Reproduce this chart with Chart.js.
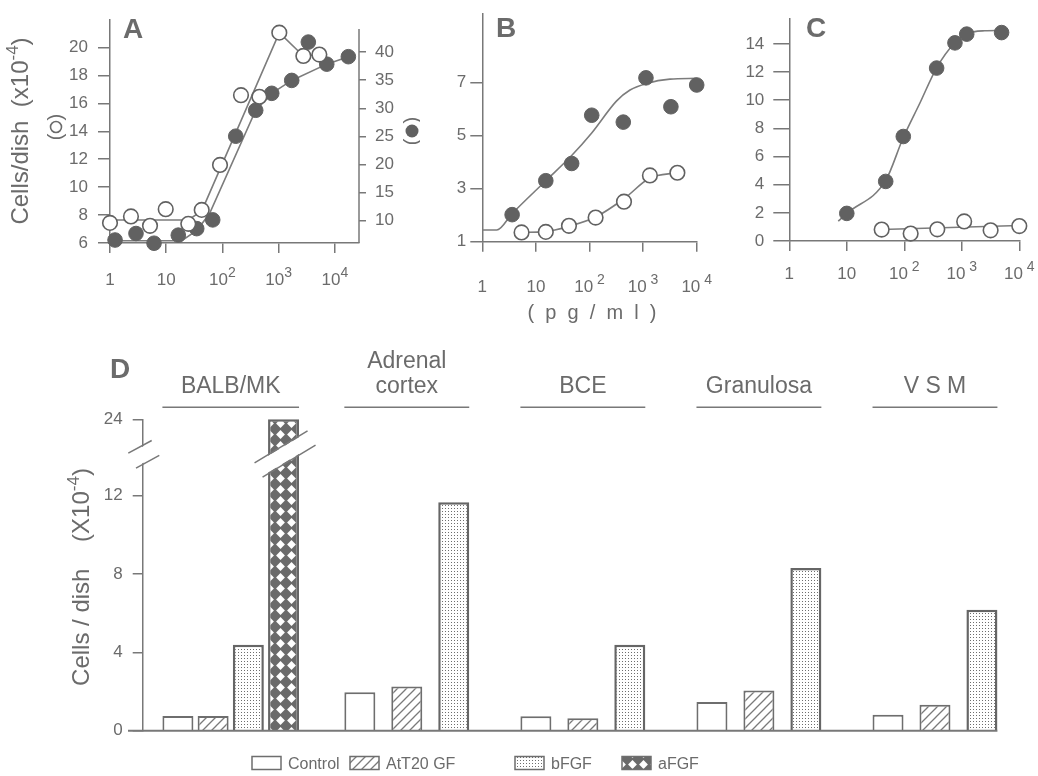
<!DOCTYPE html>
<html>
<head>
<meta charset="utf-8">
<script src="https://cdn.jsdelivr.net/npm/chart.js@4.4.1/dist/chart.umd.min.js"></script>
<style>
  body { margin: 0; background: #fff; width: 1038px; height: 776px; overflow: hidden; position: relative; }
  canvas { position: absolute; }
</style>
</head>
<body>
<canvas id="pa" width="420" height="330" style="left:0;top:0"></canvas>
<canvas id="pb" width="300" height="330" style="left:420px;top:0"></canvas>
<canvas id="pc" width="318" height="330" style="left:720px;top:0"></canvas>
<canvas id="pd" width="1038" height="446" style="left:0;top:330px"></canvas>
<script>
// ---- data ----
const logTicks = [1, 10, 100, 1000, 10000];
const logTickBase = ['1', '10', '10', '10', '10'];
const logTickExp = ['', '', '2', '3', '4'];

// A: open circles on left axis, filled circles on right axis
const aOpenX = [1, 2.36, 5.15, 9.8, 24.7, 42.8, 90.6, 214, 454, 1028, 2754, 5300];
const aOpenY = [7.44, 7.9, 7.23, 8.42, 7.37, 8.37, 11.59, 16.58, 16.47, 21.06, 19.39, 19.49];
const aFilledX = [1.23, 2.9, 6.07, 16.4, 34.9, 67.2, 172.6, 391, 754, 1710, 3377, 7175, 17380];
const aFilledY = [6.53, 7.69, 5.96, 7.4, 8.56, 10.12, 25.03, 29.65, 32.67, 34.97, 41.8, 37.87, 39.2];
const aOpenFitX = [1, 24.7, 43, 1028, 2754, 5300];
const aOpenFitY = [7.65, 7.65, 8.3, 21.06, 19.39, 19.49];
const aFilledFitX = [1, 18.9, 35, 58.5, 391, 754, 1710, 7175, 17380];
const aFilledFitY = [6.41, 6.41, 8.26, 11.16, 29.65, 32.67, 34.97, 37.87, 39.2];
const aLeftTicks = [6, 8, 10, 12, 14, 16, 18, 20];
const aRightTicks = [10, 15, 20, 25, 30, 35, 40];

// B
const bFilledX = [3.6, 15.3, 46.5, 110, 427, 1130, 3300, 10000];
const bFilledY = [2.02, 3.3, 3.95, 5.77, 5.51, 7.18, 6.09, 6.91];
const bOpenX = [5.4, 15.3, 41.4, 130, 440, 1340, 4360];
const bOpenY = [1.35, 1.37, 1.6, 1.91, 2.51, 3.5, 3.6];
const bFilledFitX = [1, 1.86, 3.6, 15.3, 46.5, 110, 321, 570, 1167, 3170, 10000];
const bFilledFitY = [1.44, 1.44, 2.06, 3.3, 4.25, 5.1, 6.31, 6.72, 6.97, 7.13, 7.16];
const bOpenFitX = [5.4, 15.3, 41.4, 130, 440, 1340, 4360];
const bOpenFitY = [1.35, 1.38, 1.58, 1.93, 2.62, 3.4, 3.6];
const bTicks = [1, 3, 5, 7];

// C
const cFilledX = [10, 47.5, 96, 365, 760, 1217, 4920];
const cFilledY = [1.96, 4.23, 7.42, 12.28, 14.07, 14.69, 14.8];
const cOpenX = [40.4, 129, 375, 1100, 3170, 10000];
const cOpenY = [0.81, 0.53, 0.83, 1.39, 0.76, 1.06];
const cFilledFitX = [7.1, 10, 47.5, 96, 187, 365, 760, 1217, 2500, 4920];
const cFilledFitY = [1.41, 1.96, 4.3, 7.35, 9.8, 12.3, 14.1, 14.72, 14.93, 14.95];
const cOpenFitX = [40.4, 10000];
const cOpenFitY = [0.82, 1.1];
const cTicks = [0, 2, 4, 6, 8, 10, 12, 14];

// D
const cellTypes = [['BALB/MK'], ['Adrenal', 'cortex'], ['BCE'], ['Granulosa'], ['V S M']];
const treatments = ['Control', 'AtT20 GF', 'bFGF', 'aFGF'];
const controlVals = [0.75, 1.96, 0.74, 1.47, 0.82];
const att20Vals = [0.75, 2.25, 0.63, 2.05, 1.33];
const bfgfVals = [4.38, 11.66, 4.38, 8.3, 6.17];
const afgfVals = [24, null, null, null, null];
const dTicks = [0, 4, 8, 12, 24];

// ---- look ----
const INK = '#6b6b6b';
const AXIS = '#787878';
const MARK = '#616161';
const FIT = '#7c7c7c';
const FONT = '"Liberation Sans", Arial, Helvetica, sans-serif';

Chart.defaults.font.family = FONT;
Chart.defaults.color = INK;
Chart.defaults.animation = false;
Chart.defaults.plugins.legend.display = false;
Chart.defaults.plugins.tooltip.enabled = false;

const pts = (xs, ys) => xs.map((x, i) => ({x, y: ys[i]}));
const openDots = {pointRadius: 7.3, backgroundColor: '#fff', borderColor: MARK, pointBackgroundColor: '#fff', pointBorderColor: MARK, pointBorderWidth: 1.6, showLine: false, clip: false};
const fullDots = {pointRadius: 7.3, backgroundColor: MARK, borderColor: MARK, pointBackgroundColor: MARK, pointBorderColor: MARK, pointBorderWidth: 1, showLine: false, clip: false};
const fitLine = {showLine: true, pointRadius: 0, borderColor: FIT, borderWidth: 1.6, tension: 0, clip: false};
const smoothLine = Object.assign({}, fitLine, {cubicInterpolationMode: 'monotone'});

function gridOf(len) {
  return {drawOnChartArea: false, drawTicks: true, tickLength: len, color: AXIS, lineWidth: 1.5};
}

// log x axis; its labels ("10" with a raised power) are painted by powLabels
function logX(max, h) {
  return {
    type: 'logarithmic', min: 1, max, bounds: 'data',
    afterBuildTicks: s => { s.ticks = logTicks.filter(v => v <= max).map(v => ({value: v})); },
    afterFit: s => { s.height = h; },
    ticks: {display: false, autoSkip: false},
    grid: gridOf(10),
    border: {color: AXIS, width: 1.5}
  };
}

function linY(o) {
  return {
    type: 'linear', position: o.position || 'left', min: o.min, max: o.max, bounds: 'data',
    afterBuildTicks: s => { s.ticks = o.ticks.map(v => ({value: v})); },
    afterFit: s => { s.width = o.width; },
    ticks: {autoSkip: false, padding: o.pad, font: {size: 17}, callback: v => String(v)},
    grid: gridOf(o.tickLen),
    border: {display: !o.noBorder, color: AXIS, width: 1.5}
  };
}

// text made of pieces [text, size, raise]; rotated = reads bottom to top
function richText(ctx, pieces, x, y, rotated) {
  ctx.save();
  ctx.translate(x, y);
  if (rotated) ctx.rotate(-Math.PI / 2);
  ctx.fillStyle = INK;
  ctx.textBaseline = 'alphabetic';
  ctx.textAlign = 'left';
  const widths = pieces.map(([t, s]) => { ctx.font = s + 'px ' + FONT; return ctx.measureText(t).width; });
  const base = pieces[0][1];
  let cx = -widths.reduce((a, b) => a + b, 0) / 2;
  pieces.forEach(([t, s, up], i) => {
    ctx.font = s + 'px ' + FONT;
    ctx.fillText(t, cx, base * 0.36 - (up || 0));
    cx += widths[i];
  });
  ctx.restore();
}

// "( o )" style key written sideways, the circle drawn as a marker
function keyMark(ctx, x, y, filled, r) {
  ctx.save();
  ctx.translate(x, y);
  ctx.rotate(-Math.PI / 2);
  ctx.font = '20px ' + FONT;
  ctx.fillStyle = INK;
  ctx.textBaseline = 'middle';
  ctx.textAlign = 'right';
  ctx.fillText('(', -r - 1, 0);
  ctx.textAlign = 'left';
  ctx.fillText(')', r + 1, 0);
  ctx.beginPath();
  ctx.arc(0, 0, r, 0, Math.PI * 2);
  if (filled) { ctx.fillStyle = MARK; ctx.fill(); }
  else { ctx.strokeStyle = INK; ctx.lineWidth = 1.6; ctx.stroke(); }
  ctx.restore();
}

function letter(ctx, ch, x, y) {
  ctx.save();
  ctx.font = 'bold 28px ' + FONT;
  ctx.fillStyle = INK;
  ctx.textAlign = 'center';
  ctx.textBaseline = 'alphabetic';
  ctx.fillText(ch, x, y);
  ctx.restore();
}

function powLabels(labelY, gap) {
  return {
    id: 'powLabels',
    afterDraw(chart) {
      const ctx = chart.ctx, x = chart.scales.x;
      x.ticks.forEach(t => {
        const i = logTicks.indexOf(t.value);
        const pieces = [[logTickBase[i], 17]];
        if (logTickExp[i]) pieces.push([gap + logTickExp[i], 14, 8]);
        richText(ctx, pieces, x.getPixelForValue(t.value), labelY, false);
      });
    }
  };
}

// ---- panel A ----
new Chart(document.getElementById('pa'), {
  type: 'scatter',
  data: {datasets: [
    Object.assign({data: pts(aOpenX, aOpenY), yAxisID: 'y'}, openDots),
    Object.assign({data: pts(aFilledX, aFilledY), yAxisID: 'y2'}, fullDots),
    Object.assign({data: pts(aOpenFitX, aOpenFitY), yAxisID: 'y'}, fitLine),
    Object.assign({data: pts(aFilledFitX, aFilledFitY), yAxisID: 'y2'}, fitLine)
  ]},
  options: {
    responsive: false,
    layout: {padding: {top: 14, left: 0, right: 0, bottom: 0}},
    scales: {
      x: logX(26900, 87),
      y: linY({min: 6, max: 21.95, ticks: aLeftTicks, width: 110, tickLen: 12, pad: 10}),
      y2: linY({position: 'right', min: 6, max: 45.7, ticks: aRightTicks, width: 61, tickLen: 7, pad: 9, noBorder: true})
    }
  },
  plugins: [powLabels(279, ''), {
    id: 'notesA',
    afterDraw(chart) {
      const {ctx, chartArea, scales} = chart;
      ctx.save();
      ctx.strokeStyle = AXIS;
      ctx.lineWidth = 1.5;
      ctx.beginPath();
      ctx.moveTo(chartArea.right, scales.y2.getPixelForValue(44.15));
      ctx.lineTo(chartArea.right, chartArea.bottom);
      ctx.stroke();
      ctx.restore();
      letter(ctx, 'A', 133, 38);
      richText(ctx, [['Cells/dish  (x10', 24], ['-4', 17, 10], [')', 24]], 19, 131, true);
      keyMark(ctx, 56, 127, false, 5.5);
      keyMark(ctx, 412, 131, true, 6.5);
    }
  }]
});

// ---- panel B ----
new Chart(document.getElementById('pb'), {
  type: 'scatter',
  data: {datasets: [
    Object.assign({data: pts(bFilledX, bFilledY)}, fullDots),
    Object.assign({data: pts(bOpenX, bOpenY)}, openDots),
    Object.assign({data: pts(bFilledFitX, bFilledFitY)}, smoothLine),
    Object.assign({data: pts(bOpenFitX, bOpenFitY)}, smoothLine)
  ]},
  options: {
    responsive: false,
    layout: {padding: {top: 11.7, left: 0, right: 23.3, bottom: 0}},
    scales: {
      x: logX(10000, 88.3),
      y: linY({min: 1, max: 9.58, ticks: bTicks, width: 62.3, tickLen: 12, pad: 4})
    }
  },
  plugins: [powLabels(286, ' '), {
    id: 'notesB',
    afterDraw(chart) {
      const ctx = chart.ctx;
      letter(ctx, 'B', 86, 37);
      richText(ctx, [['(  p  g  /  m  l  )', 20]], 172, 312, false);
    }
  }]
});

// ---- panel C ----
new Chart(document.getElementById('pc'), {
  type: 'scatter',
  data: {datasets: [
    Object.assign({data: pts(cFilledX, cFilledY)}, fullDots),
    Object.assign({data: pts(cOpenX, cOpenY)}, openDots),
    Object.assign({data: pts(cFilledFitX, cFilledFitY)}, smoothLine),
    Object.assign({data: pts(cOpenFitX, cOpenFitY)}, fitLine)
  ]},
  options: {
    responsive: false,
    layout: {padding: {top: 14, left: 0, right: 18.7, bottom: 0}},
    scales: {
      x: logX(10000, 89),
      y: linY({min: 0, max: 15.75, ticks: cTicks, width: 69.3, tickLen: 16, pad: 9})
    }
  },
  plugins: [powLabels(272.5, ' '), {
    id: 'notesC',
    afterDraw(chart) { letter(chart.ctx, 'C', 96, 36.7); }
  }]
});

// ---- panel D: broken value axis ----
const BREAK_AT = 12, SQUEEZE = 0.324;
const squash = v => (v > BREAK_AT ? BREAK_AT + (v - BREAK_AT) * SQUEEZE : v);
class BrokenLinearScale extends Chart.LinearScale {
  getPixelForValue(v) {
    return v == null ? NaN : super.getPixelForValue(squash(v));
  }
}
BrokenLinearScale.id = 'brokenLinear';
BrokenLinearScale.defaults = Chart.LinearScale.defaults;
Chart.register(BrokenLinearScale);

const pd = document.getElementById('pd');
const pctx = pd.getContext('2d');

function pattern(kind) {
  const c = document.createElement('canvas');
  const g = c.getContext('2d');
  if (kind === 'hatch') {
    c.width = c.height = 9;
    g.fillStyle = '#fff'; g.fillRect(0, 0, 9, 9);
    g.strokeStyle = '#7a7a7a'; g.lineWidth = 1.3;
    g.beginPath();
    g.moveTo(-1, 10); g.lineTo(10, -1);
    g.moveTo(-1, 1); g.lineTo(1, -1);
    g.moveTo(8, 10); g.lineTo(10, 8);
    g.stroke();
  } else if (kind === 'dots') {
    c.width = c.height = 3;
    g.fillStyle = '#fff'; g.fillRect(0, 0, 3, 3);
    g.fillStyle = '#6e6e6e'; g.fillRect(1, 1, 1, 1);
  } else {
    c.width = c.height = 11;
    g.fillStyle = '#6a6a6a'; g.fillRect(0, 0, 11, 11);
    g.fillStyle = '#fff';
    g.beginPath();
    g.moveTo(5.5, 1.1); g.lineTo(9.9, 5.5); g.lineTo(5.5, 9.9); g.lineTo(1.1, 5.5);
    g.closePath(); g.fill();
  }
  return pctx.createPattern(c, 'repeat');
}

const BAR = '#6e6e6e';
const breakVals = [16.9, 19.9];
const legendX = [252, 350, 515, 622];

new Chart(pd, {
  type: 'bar',
  data: {
    labels: cellTypes,
    datasets: [
      {label: treatments[0], data: controlVals, backgroundColor: '#fff', borderColor: BAR, borderWidth: 2},
      {label: treatments[1], data: att20Vals, backgroundColor: pattern('hatch'), borderColor: BAR, borderWidth: 2},
      {label: treatments[2], data: bfgfVals, backgroundColor: pattern('dots'), borderColor: '#666', borderWidth: 2.5},
      {label: treatments[3], data: afgfVals, backgroundColor: pattern('cross'), borderColor: '#666', borderWidth: 2.5}
    ]
  },
  options: {
    responsive: false,
    layout: {padding: {top: 89.3, bottom: 45.3, left: 0, right: 15}},
    datasets: {bar: {skipNull: true, barPercentage: 0.95, categoryPercentage: 0.8, maxBarThickness: 31, borderSkipped: 'start', clip: false}},
    scales: {
      x: {display: false, offset: true},
      y: {
        type: 'brokenLinear', min: 0, max: 15.89, bounds: 'data',
        afterBuildTicks: s => { s.ticks = dTicks.map(v => ({value: v})); },
        afterFit: s => { s.width = 142.7; },
        ticks: {autoSkip: false, padding: 10, font: {size: 17}, callback: v => String(v)},
        grid: gridOf(10),
        border: {color: AXIS, width: 1.5}
      }
    }
  },
  plugins: [{
    id: 'notesD',
    afterDraw(chart) {
      const {ctx, chartArea, scales: {y}} = chart;
      const sets = chart.data.datasets;
      ctx.save();
      ctx.strokeStyle = AXIS;
      ctx.fillStyle = INK;

      // extent of each group of bars
      const ext = chart.data.labels.map((_, i) => {
        let l = Infinity, r = -Infinity;
        sets.forEach((ds, di) => {
          if (ds.data[i] == null) return;
          const el = chart.getDatasetMeta(di).data[i];
          l = Math.min(l, el.x - el.width / 2);
          r = Math.max(r, el.x + el.width / 2);
        });
        return [l, r];
      });

      // baseline
      const y0 = y.getPixelForValue(0);
      ctx.lineWidth = 2;
      ctx.beginPath();
      ctx.moveTo(128, y0);
      ctx.lineTo(ext[ext.length - 1][1], y0);
      ctx.stroke();

      // group names and rules
      ctx.font = '23px ' + FONT;
      ctx.textAlign = 'center';
      ctx.textBaseline = 'alphabetic';
      ctx.lineWidth = 1.5;
      chart.data.labels.forEach((lines, i) => {
        const [l, r] = ext[i];
        const cx = (l + r) / 2;
        lines.forEach((t, k) => ctx.fillText(t, cx, 63.3 - (lines.length - 1 - k) * 25));
        ctx.beginPath();
        ctx.moveTo(l, 77.3);
        ctx.lineTo(r, 77.3);
        ctx.stroke();
      });

      // axis break marks, on the axis and on the tall bar
      const yL = y.getPixelForValue(breakVals[0]);
      const yU = y.getPixelForValue(breakVals[1]);
      function cut(cx, half, m, uSpan, lSpan) {
        ctx.fillStyle = '#fff';
        ctx.beginPath();
        ctx.moveTo(cx - half, yU + 1.2 - m * half);
        ctx.lineTo(cx + half, yU + 1.2 + m * half);
        ctx.lineTo(cx + half, yL - 1.2 + m * half);
        ctx.lineTo(cx - half, yL - 1.2 - m * half);
        ctx.closePath();
        ctx.fill();
        ctx.lineWidth = 1.5;
        ctx.beginPath();
        ctx.moveTo(cx - uSpan[0], yU - m * uSpan[0]);
        ctx.lineTo(cx + uSpan[1], yU + m * uSpan[1]);
        ctx.moveTo(cx - lSpan[0], yL - m * lSpan[0]);
        ctx.lineTo(cx + lSpan[1], yL + m * lSpan[1]);
        ctx.stroke();
      }
      cut(chartArea.left, 3, -0.54, [14.4, 9], [6.7, 16.6]);
      const tall = chart.getDatasetMeta(3).data[0];
      cut(tall.x, tall.width / 2 + 2, -0.6, [29, 24], [21, 32]);

      // value axis title and panel letter
      richText(ctx, [['Cells / dish    (X10', 24], ['-4', 17, 10], [')', 24]], 80, 247, true);
      letter(ctx, 'D', 120, 48.3);

      // legend
      ctx.font = '16px ' + FONT;
      ctx.textAlign = 'left';
      ctx.textBaseline = 'alphabetic';
      sets.forEach((ds, i) => {
        const bx = legendX[i];
        ctx.fillStyle = ds.backgroundColor;
        ctx.fillRect(bx, 426.5, 29, 13);
        ctx.strokeStyle = BAR;
        ctx.lineWidth = 1.5;
        ctx.strokeRect(bx, 426.5, 29, 13);
        ctx.fillStyle = INK;
        ctx.fillText(ds.label, bx + 36, 438.7);
      });
      ctx.restore();
    }
  }]
});
</script>
</body>
</html>
